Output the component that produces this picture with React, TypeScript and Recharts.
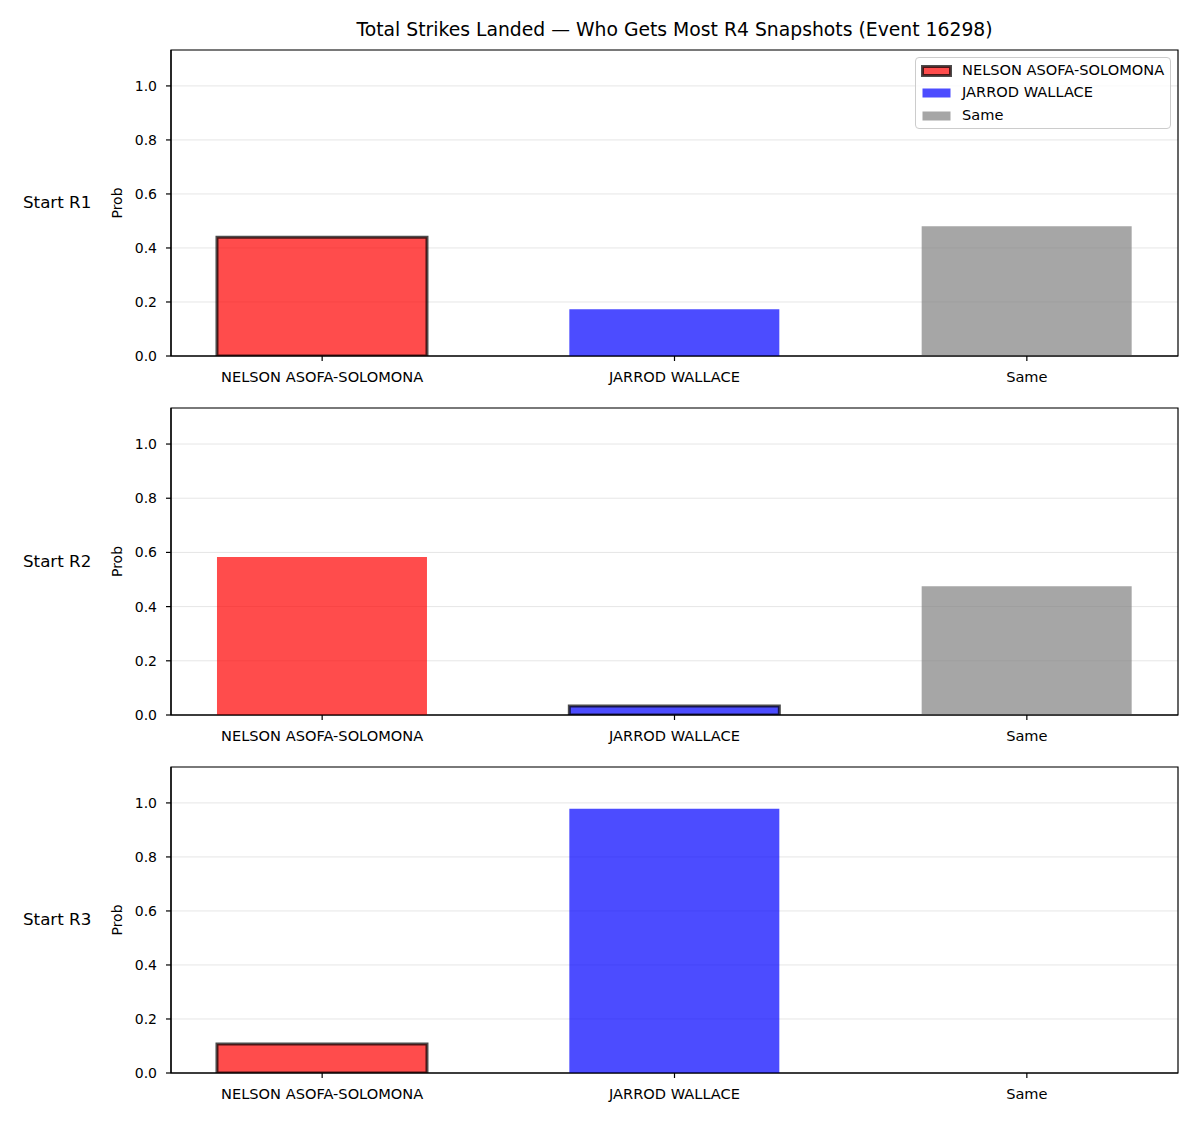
import React from 'react';
import { BarChart, Bar, XAxis, YAxis, CartesianGrid, Cell, Label, ReferenceArea } from 'recharts';

const categories = ['NELSON ASOFA-SOLOMONA', 'JARROD WALLACE', 'Same'];
const panelLabels = ['Start R1', 'Start R2', 'Start R3'];
const r1Values = [0.44, 0.173, 0.48];
const r2Values = [0.583, 0.033, 0.475];
const r3Values = [0.107, 0.978, 0.004];
const highlightIdx = [0, 1, 0];
const yTicks = [0, 0.2, 0.4, 0.6, 0.8, 1.0];
const xTicks = [0, 1, 2];
const colors = ['#ff0000', '#0000ff', '#808080'];
const title = 'Total Strikes Landed — Who Gets Most R4 Snapshots (Event 16298)';

const FONT = '"DejaVu Sans", sans-serif';
const TICK_FS = 14.6;
const X_DOMAIN: [number, number] = [-0.429, 2.429];
const Y_DOMAIN: [number, number] = [0, 1.133];

const layouts = [
  { top: 50, height: 306 },
  { top: 408, height: 307 },
  { top: 767, height: 306 },
];

function Panel({ values, hi, top, height, label }: { values: number[]; hi: number; top: number; height: number; label: string }) {
  const data = values.map((v, i) => ({ x: i, value: v, name: categories[i] }));
  const padTop = 10;
  return (
    <div style={{ position: 'absolute', left: 0, top: top - padTop, width: 1200 }}>
      <BarChart
        width={1200}
        height={padTop + height + 44}
        data={data}
        margin={{ top: padTop, right: 22, bottom: 0, left: 0 }}
        style={{ fontFamily: FONT }}
      >
        <CartesianGrid vertical={false} horizontal stroke="#e6e6e6" strokeWidth={1} />
        <XAxis
          dataKey="x"
          type="number"
          domain={X_DOMAIN}
          allowDataOverflow
          ticks={xTicks}
          interval={0}
          tickFormatter={(i: number) => categories[i] ?? ''}
          height={44}
          tickSize={5}
          tickMargin={11}
          axisLine={{ stroke: '#000', strokeWidth: 1.2 }}
          tickLine={{ stroke: '#000', strokeWidth: 1.2 }}
          tick={{ fill: '#000', fontSize: TICK_FS, fontFamily: FONT }}
        />
        <YAxis
          type="number"
          domain={Y_DOMAIN}
          allowDataOverflow
          ticks={yTicks}
          interval={0}
          tickFormatter={(v: number) => v.toFixed(1)}
          width={171}
          tickSize={5}
          tickMargin={9}
          axisLine={{ stroke: '#000', strokeWidth: 1.2 }}
          tickLine={{ stroke: '#000', strokeWidth: 1.2 }}
          tick={{ fill: '#000', fontSize: 14, fontFamily: FONT }}
        >
          <Label value="Prob" angle={-90} position="center" dx={32} style={{ fill: '#000', fontSize: 14, fontFamily: FONT }} />
        </YAxis>
        <Bar dataKey="value" barSize={210} isAnimationActive={false}>
          {data.map((d, i) => (
            <Cell
              key={i}
              fill={colors[i]}
              fillOpacity={0.7}
              stroke={i === hi ? '#000' : 'none'}
              strokeOpacity={0.7}
              strokeWidth={i === hi ? 3 : 0}
            />
          ))}
        </Bar>
        <ReferenceArea
          x1={X_DOMAIN[0]}
          x2={X_DOMAIN[1]}
          y1={Y_DOMAIN[0]}
          y2={Y_DOMAIN[1]}
          fill="none"
          fillOpacity={0}
          stroke="#000"
          strokeWidth={1.2}
          strokeOpacity={1}
          ifOverflow="visible"
        />
      </BarChart>
      <div
        style={{
          position: 'absolute',
          left: 23,
          top: padTop + height / 2 - 11,
          fontSize: 16.7,
          fontFamily: FONT,
          color: '#000',
          whiteSpace: 'nowrap',
          lineHeight: '20px',
        }}
      >
        {label}
      </div>
    </div>
  );
}

function LegendBox() {
  const items = [
    { name: categories[0], color: colors[0], edge: true, y: 70 },
    { name: categories[1], color: colors[1], edge: false, y: 92 },
    { name: categories[2], color: colors[2], edge: false, y: 115 },
  ];
  return (
    <div
      style={{
        position: 'absolute',
        left: 915,
        top: 57,
        width: 254,
        height: 70,
        border: '1px solid #cccccc',
        borderRadius: 4,
        background: 'rgba(255,255,255,0.8)',
        fontFamily: FONT,
        fontSize: TICK_FS,
      }}
    >
      {items.map((it, i) => (
        <div key={i} style={{ position: 'absolute', left: 0, top: it.y - 57 - 11, height: 22, width: 254 }}>
          <svg width={40} height={22} style={{ position: 'absolute', left: 0, top: 0 }}>
            <rect
              x={6.5}
              y={6.5}
              width={28}
              height={9}
              fill={it.color}
              fillOpacity={0.7}
              stroke={it.edge ? '#000' : 'none'}
              strokeOpacity={0.7}
              strokeWidth={it.edge ? 3 : 0}
            />
          </svg>
          <span style={{ position: 'absolute', left: 46, top: 1, lineHeight: '18px', color: '#000', whiteSpace: 'nowrap' }}>
            {it.name}
          </span>
        </div>
      ))}
    </div>
  );
}

export default function App() {
  const all = [r1Values, r2Values, r3Values];
  return (
    <div style={{ position: 'absolute', left: 0, top: 0, width: 1200, height: 1125, background: '#fff', fontFamily: FONT }}>
      <div
        style={{
          position: 'absolute',
          left: 171,
          width: 1007,
          top: 18,
          textAlign: 'center',
          fontSize: 18.8,
          lineHeight: '24px',
          color: '#000',
          whiteSpace: 'nowrap',
        }}
      >
        {title}
      </div>
      {all.map((vals, i) => (
        <Panel
          key={i}
          values={vals}
          hi={highlightIdx[i]}
          top={layouts[i].top}
          height={layouts[i].height}
          label={panelLabels[i]}
        />
      ))}
      <LegendBox />
    </div>
  );
}
